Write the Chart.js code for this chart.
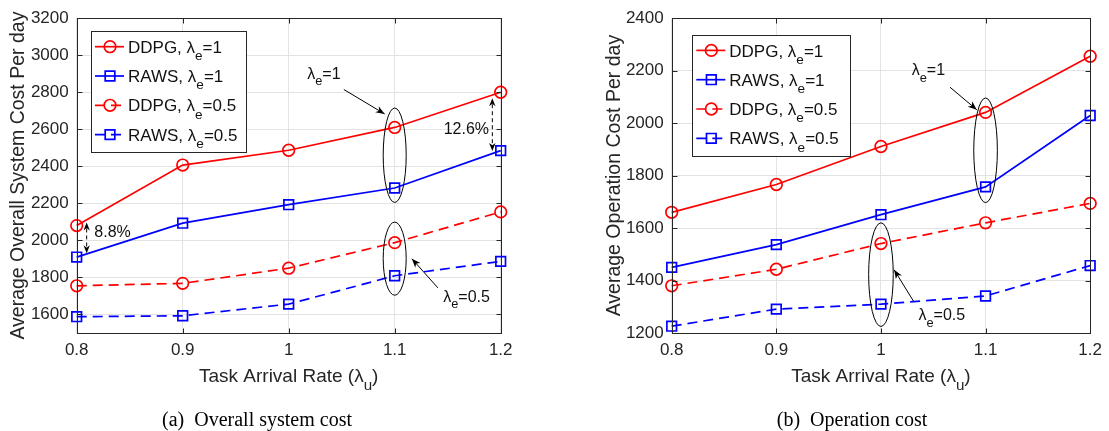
<!DOCTYPE html>
<html>
<head>
<meta charset="utf-8">
<script src="https://cdn.jsdelivr.net/npm/chart.js@4.4.1/dist/chart.umd.min.js"></script>
<style>
  html, body { margin: 0; padding: 0; background: #fff; }
  #wrap { position: relative; width: 1109px; height: 431px; overflow: hidden; }
  .box { position: absolute; top: 0; height: 431px; }
  #boxA { left: 0; width: 555px; }
  #boxB { left: 555px; width: 554px; }
  .cap { position: absolute; top: 408px; line-height: 22px; font-family: 'Liberation Serif', 'Times New Roman', serif;
         font-size: 20px; color: #000; white-space: nowrap; transform: translateX(-50%); }
</style>
</head>
<body>
<div id="wrap">
  <div class="box" id="boxA"><canvas id="chartA"></canvas></div>
  <div class="box" id="boxB"><canvas id="chartB"></canvas></div>
  <div class="cap" style="left:257px">(a)&nbsp; Overall system cost</div>
  <div class="cap" style="left:852px">(b)&nbsp; Operation cost</div>
</div>
<script>
// data
const arrivalRates = [0.8, 0.9, 1.0, 1.1, 1.2];
const xTicks = [0.8, 0.9, 1.0, 1.1, 1.2];

// (a) overall system cost per day
const sysDdpgE1 = [2080, 2407, 2487, 2610, 2800];
const sysRawsE1 = [1910, 2093, 2193, 2283, 2485];
const sysDdpgE05 = [1755, 1768, 1850, 1988, 2154];
const sysRawsE05 = [1588, 1593, 1656, 1809, 1887];
const sysYTicks = [1600, 1800, 2000, 2200, 2400, 2600, 2800, 3000, 3200];

// (b) operation cost per day
const opDdpgE1 = [1660, 1766, 1911, 2041, 2255];
const opRawsE1 = [1450, 1537, 1651, 1757, 2029];
const opDdpgE05 = [1380, 1443, 1541, 1620, 1694];
const opRawsE05 = [1226, 1291, 1310, 1341, 1457];
const opYTicks = [1200, 1400, 1600, 1800, 2000, 2200, 2400];

const algNames = ['DDPG', 'RAWS', 'DDPG', 'RAWS'];
const lambdaE = ['1', '1', '0.5', '0.5'];

const FONT = "'Liberation Sans', Arial, Helvetica, sans-serif";
const INK = '#262626';

function fontFor(kind, size) {
  if (kind === 's') return (size * 0.8) + 'px ' + FONT;
  return size + 'px ' + FONT;
}

function richWidth(ctx, parts, size) {
  let w = 0;
  parts.forEach(p => { ctx.font = fontFor(p[1], size); w += ctx.measureText(p[0]).width; });
  return w;
}

// draws text with subscripts, y is the middle of the capitals
function drawRich(ctx, parts, x, y, size, align, color) {
  const total = richWidth(ctx, parts, size);
  let cx = align === 'center' ? x - total / 2 : align === 'right' ? x - total : x;
  const base = y + size * 0.36;
  ctx.fillStyle = color;
  ctx.textAlign = 'left';
  ctx.textBaseline = 'alphabetic';
  parts.forEach(p => {
    ctx.font = fontFor(p[1], size);
    ctx.fillText(p[0], cx, p[1] === 's' ? base + size * 0.42 : base);
    cx += ctx.measureText(p[0]).width;
  });
}

function arrowHead(ctx, x1, y1, x2, y2, len, half) {
  const a = Math.atan2(y2 - y1, x2 - x1);
  const c = Math.cos(a), s = Math.sin(a);
  ctx.beginPath();
  ctx.moveTo(x2, y2);
  ctx.lineTo(x2 - len * c + half * s, y2 - len * s - half * c);
  ctx.lineTo(x2 - len * 0.7 * c, y2 - len * 0.7 * s);
  ctx.lineTo(x2 - len * c - half * s, y2 - len * s + half * c);
  ctx.closePath();
  ctx.fill();
}

function drawMarker(ctx, style, r, x, y) {
  ctx.beginPath();
  if (style === 'rect') {
    const h = r * Math.SQRT1_2;
    ctx.rect(x - h, y - h, 2 * h, 2 * h);
  } else {
    ctx.arc(x, y, r, 0, Math.PI * 2);
  }
  ctx.stroke();
}

function drawNote(ctx, xs, ys, n) {
  const X = v => xs.getPixelForValue(v);
  const Y = v => ys.getPixelForValue(v);
  ctx.strokeStyle = '#000';
  ctx.fillStyle = '#000';
  ctx.lineWidth = 1;
  ctx.setLineDash([]);
  if (n.kind === 'ellipse') {
    const t = Y(n.top), b = Y(n.bottom);
    ctx.beginPath();
    ctx.ellipse(X(n.x), (t + b) / 2, n.rx, (b - t) / 2, 0, 0, Math.PI * 2);
    ctx.stroke();
  } else if (n.kind === 'arrow') {
    const x1 = X(n.from[0]), y1 = Y(n.from[1]), x2 = X(n.to[0]), y2 = Y(n.to[1]);
    ctx.beginPath(); ctx.moveTo(x1, y1); ctx.lineTo(x2, y2); ctx.stroke();
    arrowHead(ctx, x1, y1, x2, y2, 9, 3.5);
  } else if (n.kind === 'dblarrow') {
    const x = X(n.x), t = Y(n.top), b = Y(n.bottom);
    ctx.setLineDash([4, 3]);
    ctx.beginPath(); ctx.moveTo(x, t + 6); ctx.lineTo(x, b - 6); ctx.stroke();
    ctx.setLineDash([]);
    arrowHead(ctx, x, b, x, t, 8, 3.2);
    arrowHead(ctx, x, t, x, b, 8, 3.2);
  } else if (n.kind === 'label') {
    drawRich(ctx, n.parts, X(n.x), Y(n.y), 16, n.align, '#111');
  }
}

function makeFrame(cfg) {
  return {
    id: 'matlabFrame',
    afterDatasetsDraw(chart) {
      const ctx = chart.ctx, a = chart.chartArea;
      const xs = chart.scales.x, ys = chart.scales.y;
      ctx.save();
      // axes box + inward ticks
      ctx.strokeStyle = INK;
      ctx.lineWidth = 1;
      const L = Math.round(a.left) + 0.5, R = Math.round(a.right) + 0.5;
      const T = Math.round(a.top) + 0.5, B = Math.round(a.bottom) + 0.5;
      ctx.strokeRect(L, T, R - L, B - T);
      ctx.beginPath();
      xs.ticks.forEach(t => {
        const px = Math.round(xs.getPixelForValue(t.value)) + 0.5;
        ctx.moveTo(px, B); ctx.lineTo(px, B - 5);
        ctx.moveTo(px, T); ctx.lineTo(px, T + 5);
      });
      ys.ticks.forEach(t => {
        const py = Math.round(ys.getPixelForValue(t.value)) + 0.5;
        ctx.moveTo(L, py); ctx.lineTo(L + 5, py);
        ctx.moveTo(R, py); ctx.lineTo(R - 5, py);
      });
      ctx.stroke();

      cfg.notes.forEach(n => drawNote(ctx, xs, ys, n));

      // legend box
      const lx = a.left + cfg.legend.dx, ly = a.top + cfg.legend.dy;
      const sets = chart.data.datasets;
      const w = cfg.legend.w, h = 121;
      ctx.fillStyle = '#fff';
      ctx.fillRect(lx, ly, w, h);
      ctx.strokeStyle = INK;
      ctx.lineWidth = 1;
      ctx.strokeRect(Math.round(lx) + 0.5, Math.round(ly) + 0.5, w, h);
      sets.forEach((ds, i) => {
        const y = ly + 15.5 + i * 29.3;
        ctx.strokeStyle = ds.borderColor;
        ctx.lineWidth = ds.borderWidth;
        ctx.setLineDash(ds.borderDash || []);
        ctx.beginPath(); ctx.moveTo(lx + 4, y); ctx.lineTo(lx + 33, y); ctx.stroke();
        ctx.setLineDash([]);
        ctx.lineWidth = ds.pointBorderWidth;
        drawMarker(ctx, ds.pointStyle, ds.pointRadius, lx + 19, y);
        drawRich(ctx, ds.legendParts, lx + 37, y, 17, 'left', '#111');
      });
      ctx.restore();
    },
    afterDraw(chart) {
      const ctx = chart.ctx, a = chart.chartArea;
      ctx.save();
      ctx.translate(cfg.yTitleX, (a.top + a.bottom) / 2);
      ctx.rotate(-Math.PI / 2);
      drawRich(ctx, [[cfg.yTitle]], 0, 0, 19.5, 'center', INK);
      ctx.restore();
      ctx.save();
      drawRich(ctx, [['Task Arrival Rate ('], ['\u03bb'], ['u', 's'], [')']],
        (a.left + a.right) / 2, 375, 19, 'center', INK);
      ctx.restore();
    }
  };
}

function buildSets(series) {
  const colors = ['#ff0000', '#0000ff', '#ff0000', '#0000ff'];
  return series.map((vals, i) => ({
    data: arrivalRates.map((x, j) => ({ x: x, y: vals[j] })),
    borderColor: colors[i],
    backgroundColor: 'rgba(0,0,0,0)',
    pointBackgroundColor: 'rgba(0,0,0,0)',
    pointBorderColor: colors[i],
    borderWidth: 1.7,
    pointBorderWidth: 1.7,
    borderDash: i < 2 ? [] : [10, 6],
    pointStyle: i % 2 === 0 ? 'circle' : 'rect',
    pointRadius: i % 2 === 0 ? 5.8 : 6.8,
    tension: 0,
    clip: false,
    legendParts: [[algNames[i] + ', \u03bb'], ['e', 's'], ['=' + lambdaE[i]]]
  }));
}

function makeChart(id, series, yTicks, yMin, yMax, padding, cfg) {
  return new Chart(document.getElementById(id), {
    type: 'line',
    data: { datasets: buildSets(series) },
    options: {
      responsive: true,
      maintainAspectRatio: false,
      animation: false,
      layout: { padding: padding },
      plugins: { legend: { display: false }, tooltip: { enabled: false } },
      scales: {
        x: {
          type: 'linear',
          min: 0.8, max: 1.2,
          afterBuildTicks: s => { s.ticks = xTicks.map(v => ({ value: v })); },
          afterFit: s => { s.height = 60; },
          ticks: {
            callback: v => String(+v.toFixed(1)),
            font: { family: FONT, size: 17 },
            color: INK,
            padding: 7,
            maxRotation: 0
          },
          grid: { color: '#e3e3e3', drawTicks: false },
          border: { display: false }
        },
        y: {
          min: yMin, max: yMax,
          afterBuildTicks: s => { s.ticks = yTicks.map(v => ({ value: v })); },
          afterFit: s => { s.width = 76.7; },
          ticks: {
            callback: v => String(v),
            font: { family: FONT, size: 17 },
            color: INK,
            padding: 8
          },
          grid: { color: '#e3e3e3', drawTicks: false },
          border: { display: false }
        }
      }
    },
    plugins: [makeFrame(cfg)]
  });
}

const lamParts = v => [['\u03bb'], ['e', 's'], ['=' + v]];

makeChart('chartA', [sysDdpgE1, sysRawsE1, sysDdpgE05, sysRawsE05], sysYTicks, 1500, 3200,
  { left: 0, right: 54.3, top: 11, bottom: 38 },
  {
    yTitle: 'Average Overall System Cost Per day',
    yTitleX: 16.7,
    legend: { dx: 14.3, dy: 13, w: 155 },
    notes: [
      { kind: 'ellipse', x: 1.1, top: 2715, bottom: 2205, rx: 11.5 },
      { kind: 'ellipse', x: 1.1, top: 2099, bottom: 1704, rx: 11.5 },
      { kind: 'label', x: 1.0175, y: 2905, align: 'left', parts: lamParts('1') },
      { kind: 'arrow', from: [1.052, 2815], to: [1.0905, 2683] },
      { kind: 'label', x: 1.189, y: 2606, align: 'right', parts: [['12.6%']] },
      { kind: 'dblarrow', x: 1.1921, top: 2768, bottom: 2483 },
      { kind: 'label', x: 0.8166, y: 2048, align: 'left', parts: [['8.8%']] },
      { kind: 'dblarrow', x: 0.8094, top: 2097, bottom: 1930 },
      { kind: 'arrow', from: [1.1407, 1744], to: [1.1162, 1901] },
      { kind: 'label', x: 1.1458, y: 1700, align: 'left', parts: lamParts('0.5') }
    ]
  });

makeChart('chartB', [opDdpgE1, opRawsE1, opDdpgE05, opRawsE05], opYTicks, 1200, 2400,
  { left: 40, right: 12.3, top: 11, bottom: 38 },
  {
    yTitle: 'Average Operation Cost Per day',
    yTitleX: 58.3,
    legend: { dx: 20.6, dy: 16.7, w: 158 },
    notes: [
      { kind: 'ellipse', x: 1.1, top: 2096, bottom: 1697, rx: 11.8 },
      { kind: 'ellipse', x: 1.0, top: 1620, bottom: 1225, rx: 12.3 },
      { kind: 'label', x: 1.0294, y: 2206, align: 'left', parts: lamParts('1') },
      { kind: 'arrow', from: [1.066, 2137], to: [1.0916, 2051] },
      { kind: 'arrow', from: [1.031, 1322], to: [1.0126, 1441] },
      { kind: 'label', x: 1.0359, y: 1272, align: 'left', parts: lamParts('0.5') }
    ]
  });
</script>
</body>
</html>
